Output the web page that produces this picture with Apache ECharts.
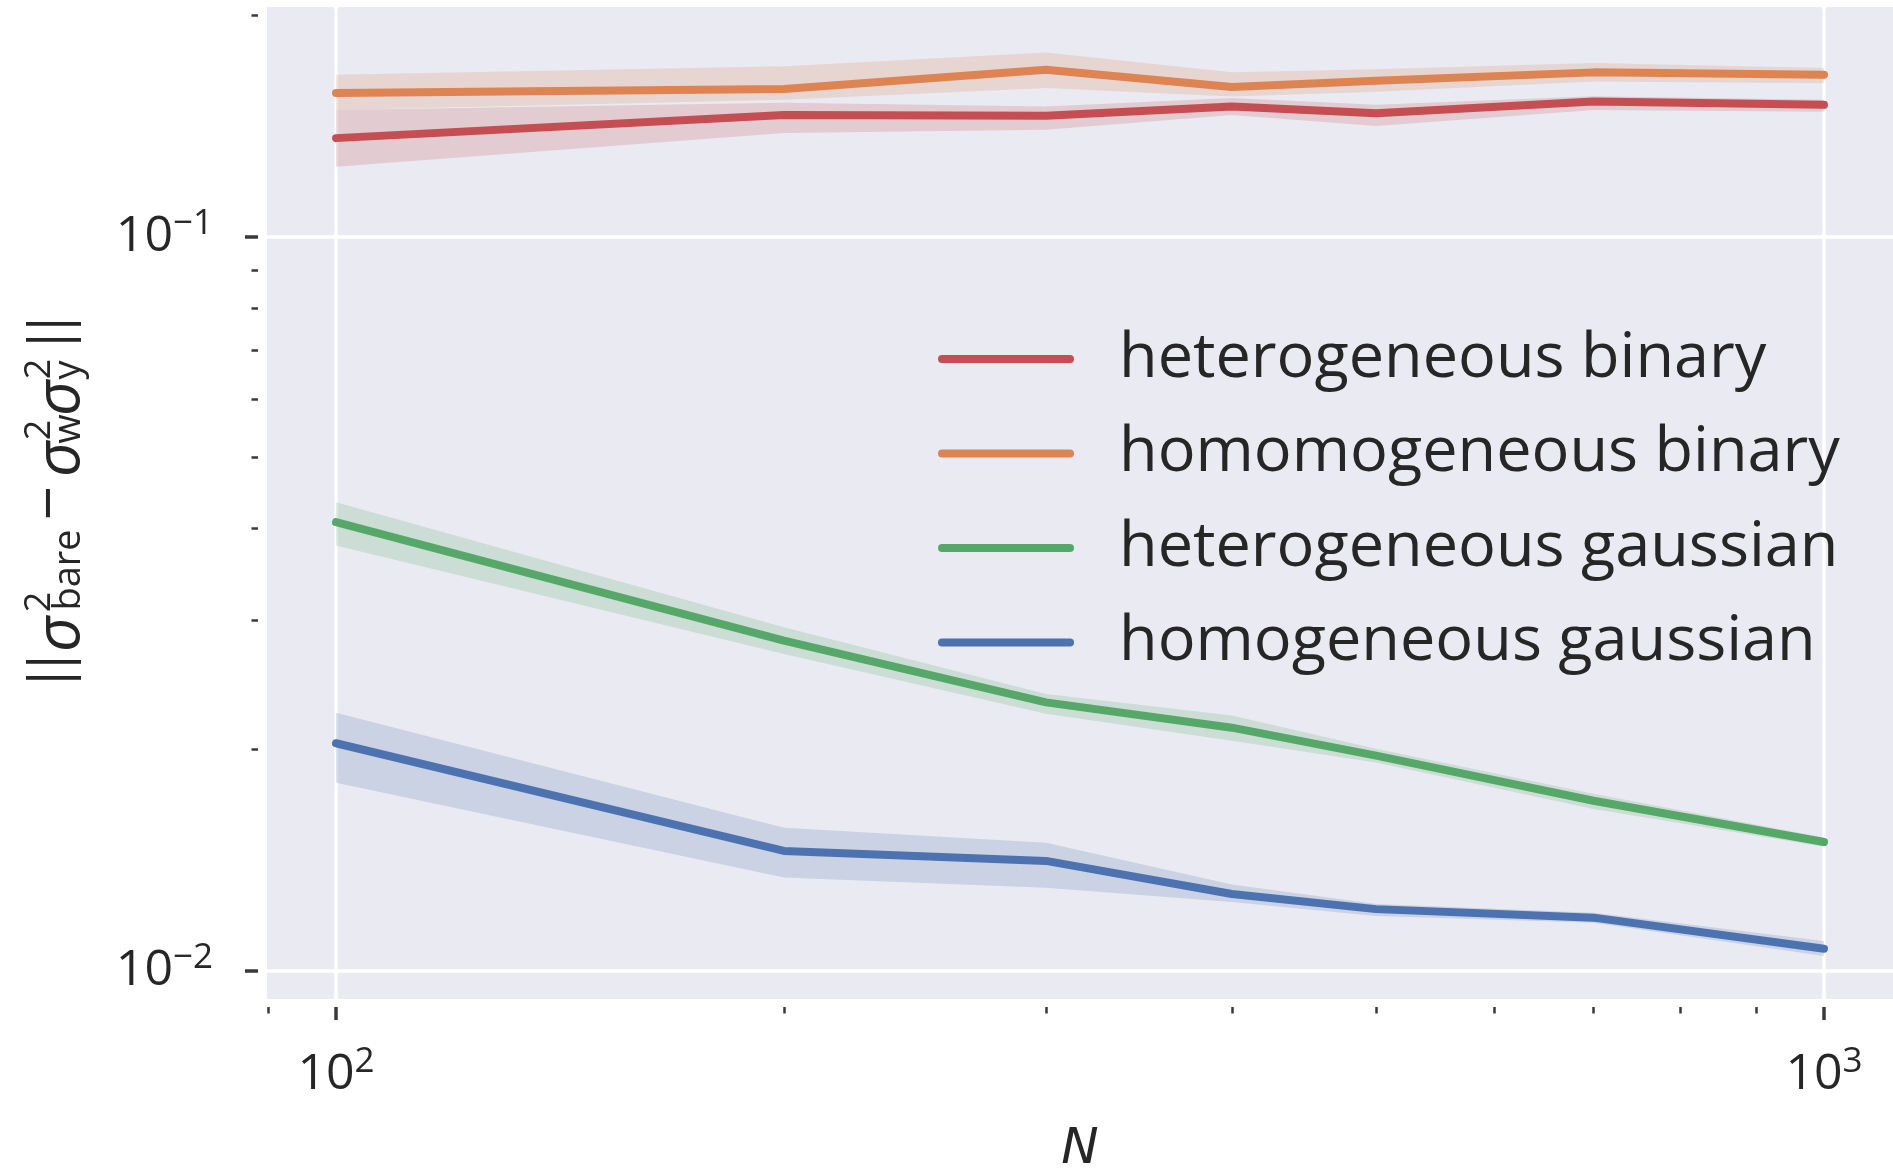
<!DOCTYPE html>
<html>
<head>
<meta charset="utf-8">
<script src="https://cdn.jsdelivr.net/npm/echarts@6/dist/echarts.min.js"></script>
<style>
html,body{margin:0;padding:0;background:#ffffff;}
#chart{width:1893px;height:1172px;}
</style>
</head>
<body>
<div id="chart"></div>
<script>
// ---------------- data ----------------
const N = [100, 200, 300, 400, 500, 700, 1000];

const seriesNames = ['heterogeneous binary', 'homomogeneous binary', 'heterogeneous gaussian', 'homogeneous gaussian'];

const hetBinaryMean = [0.1362, 0.1465, 0.1461, 0.1504, 0.1473, 0.1528, 0.1512];
const hetBinaryLow  = [0.1245, 0.1384, 0.1398, 0.1465, 0.1415, 0.1488, 0.1480];
const hetBinaryHigh = [0.1488, 0.1522, 0.1504, 0.1545, 0.1512, 0.1553, 0.1536];

const homBinaryMean = [0.1569, 0.1589, 0.1688, 0.1599, 0.1631, 0.1674, 0.1662];
const homBinaryLow  = [0.1488, 0.1536, 0.1594, 0.1552, 0.1575, 0.1627, 0.1618];
const homBinaryHigh = [0.1662, 0.1706, 0.1782, 0.1674, 0.1690, 0.1724, 0.1697];

const hetGaussMean = [0.04083, 0.02816, 0.02320, 0.02143, 0.01963, 0.01704, 0.01497];
const hetGaussLow  = [0.03795, 0.02701, 0.02238, 0.02057, 0.01922, 0.01661, 0.01475];
const hetGaussHigh = [0.04348, 0.02936, 0.02381, 0.02226, 0.02006, 0.01742, 0.01518];

const homGaussMean = [0.02041, 0.01456, 0.01411, 0.01272, 0.01213, 0.01181, 0.01071];
const homGaussLow  = [0.01803, 0.01339, 0.01297, 0.01240, 0.01187, 0.01162, 0.01047];
const homGaussHigh = [0.02246, 0.01566, 0.01494, 0.01310, 0.01233, 0.01199, 0.01098];

const xMajorTicks = [100, 1000];
const xMajorExp = ['2', '3'];
const xMinorTicks = [90, 200, 300, 400, 500, 600, 700, 800, 900];
const yMajorTicks = [0.01, 0.1];
const yMajorExp = ['\u22122', '\u22121'];
const yMinorTicks = [0.02, 0.03, 0.04, 0.05, 0.06, 0.07, 0.08, 0.09, 0.2];

const xRange = [89.87, 1112.7];
const yRange = [0.00915, 0.2055];

// ---------------- styling ----------------
const colors = ['#C44E52', '#DD8452', '#55A868', '#4C72B0'];
const bandColors = ['rgba(196,78,82,0.2)', 'rgba(221,132,82,0.2)', 'rgba(85,168,104,0.2)', 'rgba(76,114,176,0.2)'];
const groups = [
  {mean: hetBinaryMean, low: hetBinaryLow, high: hetBinaryHigh},
  {mean: homBinaryMean, low: homBinaryLow, high: homBinaryHigh},
  {mean: hetGaussMean, low: hetGaussLow, high: hetGaussHigh},
  {mean: homGaussMean, low: homGaussLow, high: homGaussHigh}
];
const TXT = '#262626';
const TICK = '#3a3a3a';
const FONT = 'Open Sans';

function expIndex(list, v) {
  for (let i = 0; i < list.length; i++) {
    if (Math.abs(Math.log10(list[i]) - Math.log10(v)) < 1e-6) return i;
  }
  return -1;
}
const labelRich = {
  b: {fontSize: 50, fontFamily: FONT, color: TXT, lineHeight: 60},
  s: {fontSize: 35, fontFamily: FONT, color: TXT, lineHeight: 36, verticalAlign: 'top'}
};

const series = [];
groups.forEach((g, k) => {
  series.push({
    name: seriesNames[k] + ' band', type: 'custom', silent: true, z: 2,
    xAxisIndex: 0, yAxisIndex: 0,
    data: N.map((n, i) => [n, g.low[i], g.high[i]]),
    encode: {x: 0, y: [1, 2]},
    renderItem: (params, api) => {
      if (params.dataIndex !== 0) return null;
      const pts = [];
      for (let i = 0; i < N.length; i++) pts.push(api.coord([N[i], g.high[i]]));
      for (let i = N.length - 1; i >= 0; i--) pts.push(api.coord([N[i], g.low[i]]));
      return {type: 'polygon', shape: {points: pts}, style: {fill: bandColors[k], stroke: null}};
    }
  });
});
groups.forEach((g, k) => {
  series.push({
    name: seriesNames[k], type: 'line',
    xAxisIndex: 0, yAxisIndex: 0,
    data: N.map((n, i) => [n, g.mean[i]]),
    symbol: 'none', z: 3,
    itemStyle: {color: colors[k]},
    lineStyle: {color: colors[k], width: 8, cap: 'round', join: 'round'}
  });
});

// y-axis title pieces: [text, along, across, fontSize, italic]
const yTitle = [
  ['|', 2, 53, 54, false], ['|', 18, 53, 54, false],
  ['\u03c3', 46, 61, 62, true], ['2', 78, 40, 36, false], ['bare', 110, 69, 38, false],
  ['\u2212', 177, 52, 60, false],
  ['\u03c3', 221, 61, 62, true], ['2', 250, 40, 36, false], ['w', 251, 69, 38, false],
  ['\u03c3', 282, 61, 62, true], ['2', 311, 40, 36, false], ['y', 310, 69, 38, false],
  ['|', 340, 53, 54, false], ['|', 356, 53, 54, false]
];

const chart = echarts.init(document.getElementById('chart'), null, {renderer: 'canvas'});
chart.setOption({
  animation: false,
  backgroundColor: '#ffffff',
  grid: {left: 267, right: 0, top: 7, bottom: 173, show: true, backgroundColor: '#EAEAF2', borderWidth: 0,
         containLabel: false, outerBoundsMode: 'none'},
  legend: {
    data: seriesNames, orient: 'vertical', left: 938, top: 324, padding: 0,
    itemWidth: 136, itemHeight: 8, itemGap: 24.5,
    icon: 'path://M4 0H132A4 4 0 0 1 132 8H4A4 4 0 0 1 4 0Z',
    textStyle: {fontSize: 63, fontFamily: FONT, color: TXT, lineHeight: 70, padding: [0, 0, 0, 40]},
    selectedMode: false
  },
  xAxis: [
    {
      type: 'log', logBase: 10, min: xRange[0], max: xRange[1], position: 'bottom', offset: 8,
      axisLine: {show: false},
      axisTick: {show: true, length: 13, lineStyle: {color: TICK, width: 3.5}, customValues: xMajorTicks},
      axisLabel: {
        customValues: xMajorTicks, margin: 38, rich: labelRich,
        formatter: v => { const i = expIndex(xMajorTicks, v); return i < 0 ? '' : '{b|10}{s|' + xMajorExp[i] + '}'; }
      },
      splitLine: {show: true, lineStyle: {color: '#ffffff', width: 3.5}},
      name: 'N', nameLocation: 'middle', nameGap: 118,
      nameTextStyle: {fontSize: 50, fontFamily: 'DejaVu Sans', fontStyle: 'italic', color: TXT}
    },
    {
      type: 'log', logBase: 10, min: xRange[0], max: xRange[1], position: 'bottom', offset: 8,
      axisLine: {show: false},
      axisTick: {show: true, length: 6.5, lineStyle: {color: TICK, width: 2.5}, customValues: xMinorTicks},
      axisLabel: {show: false}, splitLine: {show: false}
    }
  ],
  yAxis: [
    {
      type: 'log', logBase: 10, min: yRange[0], max: yRange[1], position: 'left', offset: 9,
      axisLine: {show: false},
      axisTick: {show: true, length: 13, lineStyle: {color: TICK, width: 3.5}, customValues: yMajorTicks},
      axisLabel: {
        customValues: yMajorTicks, margin: 45, rich: labelRich,
        formatter: v => { const i = expIndex(yMajorTicks, v); return i < 0 ? '' : '{b|10}{s|' + yMajorExp[i] + '}'; }
      },
      splitLine: {show: true, lineStyle: {color: '#ffffff', width: 3.5}}
    },
    {
      type: 'log', logBase: 10, min: yRange[0], max: yRange[1], position: 'left', offset: 9,
      axisLine: {show: false},
      axisTick: {show: true, length: 6.5, lineStyle: {color: TICK, width: 2.5}, customValues: yMinorTicks},
      axisLabel: {show: false}, splitLine: {show: false}
    }
  ],
  graphic: [{
    type: 'group', x: 0, y: 680, rotation: Math.PI / 2, silent: true,
    children: yTitle.map(p => ({
      type: 'text', x: p[1], y: p[2],
      style: {text: p[0], fontSize: p[3], fontFamily: FONT, fontStyle: p[4] ? 'italic' : 'normal',
              fill: TXT, align: 'center', verticalAlign: 'middle'}
    }))
  }],
  series: series
});
</script>
</body>
</html>
